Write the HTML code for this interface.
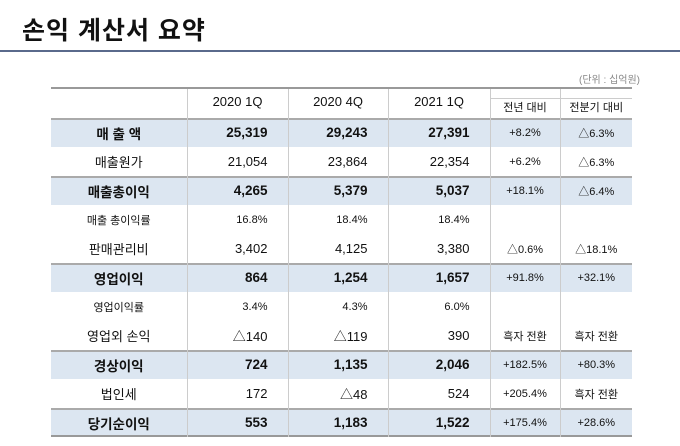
<!DOCTYPE html>
<html><head><meta charset="utf-8"><style>
body{margin:0;width:680px;height:446px;background:#fff;position:relative;overflow:hidden;font-family:"Liberation Sans","Noto Sans CJK KR",sans-serif;color:#111}
.title{position:absolute;left:22px;top:11px;font-size:25px;font-weight:bold;letter-spacing:1px}
.hr{position:absolute;left:0;top:50px;width:680px;height:2px;background:#5a6a8c}
.unit{position:absolute;right:40px;top:71px;font-size:10px;color:#888}
table{position:absolute;left:51px;top:87px;width:581px;border-collapse:collapse;table-layout:fixed;font-size:13px;border-top:2px solid #999}
td{height:29px;padding:0;border-left:1px solid #ccc;white-space:nowrap;box-sizing:border-box}
td:first-child{border-left:none;text-align:center}
td.n{text-align:right;padding-right:20px}
td.p{text-align:center;font-size:11px}
tr.h td{background:#dce6f1;font-weight:bold;font-size:13.5px;box-shadow:inset 0 2px 0 #aaa}
tr.h td.p{font-weight:normal;font-size:11px}
tr.s td{font-size:11px}
thead td{height:30px;text-align:center;font-size:13px;padding-bottom:4px}
thead td.sub{font-size:11px;padding:9px 0 0 0;vertical-align:top}
.box{border-top:1px solid #ccc;height:19px;line-height:19px}
tr.last td{box-shadow:inset 0 2px 0 #aaa,inset 0 -2px 0 #999}
</style></head><body>
<div class="title">손익 계산서 요약</div>
<div class="hr"></div>
<div class="unit">(단위 : 십억원)</div>
<table>
<colgroup><col style="width:136px"><col style="width:101px"><col style="width:100px"><col style="width:102px"><col style="width:70px"><col style="width:72px"></colgroup>
<thead><tr><td></td><td>2020 1Q</td><td>2020 4Q</td><td>2021 1Q</td><td class="sub"><div class="box">전년 대비</div></td><td class="sub"><div class="box">전분기 대비</div></td></tr></thead>
<tbody>
<tr class="h"><td>매 출 액</td><td class="n">25,319</td><td class="n">29,243</td><td class="n">27,391</td><td class="p">+8.2%</td><td class="p">△6.3%</td></tr>
<tr><td>매출원가</td><td class="n">21,054</td><td class="n">23,864</td><td class="n">22,354</td><td class="p">+6.2%</td><td class="p">△6.3%</td></tr>
<tr class="h"><td>매출총이익</td><td class="n">4,265</td><td class="n">5,379</td><td class="n">5,037</td><td class="p">+18.1%</td><td class="p">△6.4%</td></tr>
<tr class="s"><td>매출 총이익률</td><td class="n">16.8%</td><td class="n">18.4%</td><td class="n">18.4%</td><td class="p"></td><td class="p"></td></tr>
<tr><td>판매관리비</td><td class="n">3,402</td><td class="n">4,125</td><td class="n">3,380</td><td class="p">△0.6%</td><td class="p">△18.1%</td></tr>
<tr class="h"><td>영업이익</td><td class="n">864</td><td class="n">1,254</td><td class="n">1,657</td><td class="p">+91.8%</td><td class="p">+32.1%</td></tr>
<tr class="s"><td>영업이익률</td><td class="n">3.4%</td><td class="n">4.3%</td><td class="n">6.0%</td><td class="p"></td><td class="p"></td></tr>
<tr><td>영업외 손익</td><td class="n">△140</td><td class="n">△119</td><td class="n">390</td><td class="p">흑자 전환</td><td class="p">흑자 전환</td></tr>
<tr class="h"><td>경상이익</td><td class="n">724</td><td class="n">1,135</td><td class="n">2,046</td><td class="p">+182.5%</td><td class="p">+80.3%</td></tr>
<tr><td>법인세</td><td class="n">172</td><td class="n">△48</td><td class="n">524</td><td class="p">+205.4%</td><td class="p">흑자 전환</td></tr>
<tr class="h last"><td>당기순이익</td><td class="n">553</td><td class="n">1,183</td><td class="n">1,522</td><td class="p">+175.4%</td><td class="p">+28.6%</td></tr>
</tbody></table>
</body></html>
